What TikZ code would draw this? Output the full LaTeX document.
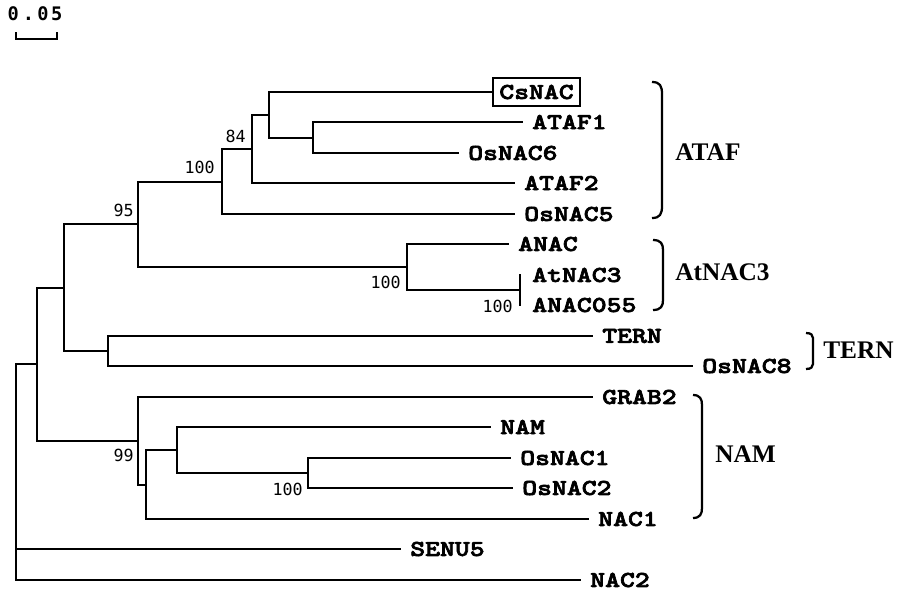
\documentclass[tikz,border=0pt]{standalone}
\usepackage{fontspec}
\setmainfont{Liberation Serif}
\newfontfamily\leaffont{lmmonolt10-bold.otf}[FakeStretch=1.25, FakeBold=3]
\newfontfamily\bsfont{DejaVu Sans Mono}
\tikzset{
  branch/.style={line width=1.9pt, line cap=rect},
  leaf/.style={anchor=west, inner xsep=7.5pt, inner ysep=0pt, font=\leaffont\fontsize{17}{17}\selectfont},
  leafz/.style={leaf, inner xsep=9pt},
  boxed/.style={anchor=west, draw, line width=1.8pt, inner sep=0pt, minimum width=65pt, minimum height=21pt, font=\leaffont\fontsize{17}{17}\selectfont},
  boot/.style={anchor=east, inner sep=0pt, font=\bsfont\fontsize{12.5}{12.5}\selectfont},
  group/.style={anchor=west, inner sep=0pt, font=\bfseries\fontsize{19}{19}\selectfont},
  brack/.style={line width=1.7pt},
}
\begin{document}
\begin{tikzpicture}[x=0.75pt,y=-0.75pt]
\useasboundingbox (0,0) rectangle (913,593);
% scale bar
\node[inner sep=0pt, font=\bsfont\bfseries\fontsize{14}{14}\selectfont] (scaletxt) at (35,14) {0\kern3pt.\kern2.5pt0\kern2pt5};
\coordinate (sbL) at (16,39);
\coordinate (sbR) at (57,39);
\draw[line width=1.6pt] ([yshift=5pt]sbL) -- (sbL) -- (sbR) -- ([yshift=5pt]sbR);
% leaves
\node[boxed] (CsNAC) at (492,92) {CsNAC};
\node[leaf] (ATAF1) at (522,122) {ATAF1};
\node[leaf] (OsNAC6) at (458,153) {OsNAC6};
\node[leaf] (ATAF2) at (514,183) {ATAF2};
\node[leaf] (OsNAC5) at (514,214) {OsNAC5};
\node[leaf] (ANAC) at (508,244) {ANAC};
\node[leafz] (AtNAC3) at (520,275) {AtNAC3};
\node[leafz] (ANAC055) at (520,305) {ANAC055};
\node[leaf] (TERN) at (592,336) {TERN};
\node[leaf] (OsNAC8) at (692,366) {OsNAC8};
\node[leaf] (GRAB2) at (592,397) {GRAB2};
\node[leaf] (NAM) at (490,427) {NAM};
\node[leaf] (OsNAC1) at (510,458) {OsNAC1};
\node[leaf] (OsNAC2) at (512,488) {OsNAC2};
\node[leaf] (NAC1) at (588,519) {NAC1};
\node[leaf] (SENU5) at (400,549) {SENU5};
\node[leaf] (NAC2) at (580,580) {NAC2};
% internal nodes
\coordinate (G) at (313,138);
\coordinate (F) at (269,115);
\coordinate (E) at (252,149);
\coordinate (D) at (222,182);
\coordinate (I) at (520,290);
\coordinate (H) at (407,267);
\coordinate (C) at (138,224);
\coordinate (T) at (108,351);
\coordinate (B) at (64,288);
\coordinate (K) at (308,473);
\coordinate (J) at (177,450);
\coordinate (L) at (146,485);
\coordinate (N) at (138,441);
\coordinate (A) at (37,364);
\coordinate (R) at (16,472);
% branches
\begin{scope}[branch]
\draw (G) |- (ATAF1); \draw (G) |- (OsNAC6);
\draw (F) |- (CsNAC); \draw (F) |- (G);
\draw (E) |- (F); \draw (E) |- (ATAF2);
\draw (D) |- (E); \draw (D) |- (OsNAC5);
\draw (I) |- (AtNAC3); \draw (I) |- (ANAC055);
\draw (H) |- (ANAC); \draw (H) |- (I);
\draw (C) |- (D); \draw (C) |- (H);
\draw (T) |- (TERN); \draw (T) |- (OsNAC8);
\draw (B) |- (C); \draw (B) |- (T);
\draw (K) |- (OsNAC1); \draw (K) |- (OsNAC2);
\draw (J) |- (NAM); \draw (J) |- (K);
\draw (L) |- (J); \draw (L) |- (NAC1);
\draw (N) |- (GRAB2); \draw (N) |- (L);
\draw (A) |- (B); \draw (A) |- (N);
\draw (R) |- (A); \draw (R) |- (SENU5); \draw (R) |- (NAC2);
\end{scope}
% bootstrap values
\node[boot] (bD) at (215,167) {100};
\node[boot] (bE) at (246,136) {84};
\node[boot] (bC) at (134,210) {95};
\node[boot] (bH) at (401,282) {100};
\node[boot] (bI) at (513,306) {100};
\node[boot] (bN) at (134,455) {99};
\node[boot] (bK) at (303,489) {100};
% brackets
\draw[brack] (652,82) .. controls (660,82) and (662,86) .. (662,94) -- (662,206) .. controls (662,214) and (660,218) .. (652,218);
\draw[brack] (653,240) .. controls (661,240) and (663,244) .. (663,250) -- (663,300) .. controls (663,306) and (661,310) .. (653,310);
\draw[brack] (806,333) .. controls (811,333) and (813,335) .. (813,338) -- (813,364) .. controls (813,367) and (811,369) .. (806,369);
\draw[brack] (693,395) .. controls (700,395) and (702,399) .. (702,405) -- (702,508) .. controls (702,514) and (700,518) .. (693,518);
% group labels
\node[group] (gATAF) at (675,152) {ATAF};
\node[group] (gAtNAC3) at (675,272) {AtNAC3};
\node[group] (gTERN) at (823,350) {TERN};
\node[group] (gNAM) at (715,454) {NAM};
\end{tikzpicture}
\end{document}
